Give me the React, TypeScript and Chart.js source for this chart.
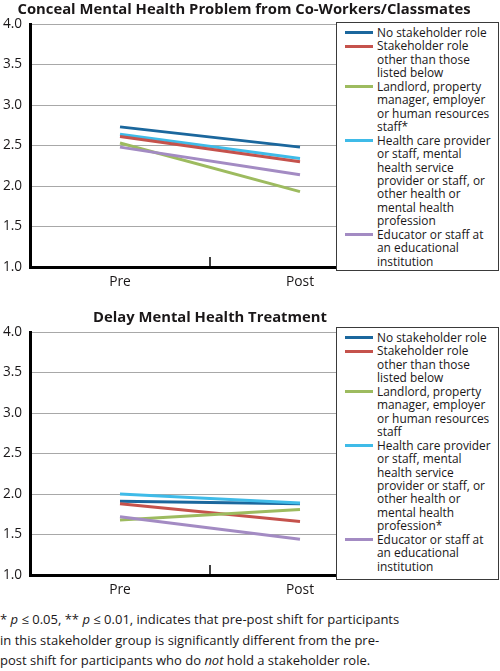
import React, { useEffect, useRef } from "react";
import { Chart, registerables } from "chart.js";

Chart.register(...registerables);

// ---------- data ----------
const categories = ["Pre", "Post"];
const yTicks = [1.0, 1.5, 2.0, 2.5, 3.0, 3.5, 4.0];

const seriesColors = ["#1b679d", "#c5524c", "#9dbb5f", "#3fbbe8", "#a38bc3"];

const concealLegend = [
  ["No stakeholder role"],
  ["Stakeholder role", "other than those", "listed below"],
  ["Landlord, property", "manager, employer", "or human resources", "staff*"],
  ["Health care provider", "or staff, mental", "health service", "provider or staff, or", "other health or", "mental health", "profession"],
  ["Educator or staff at", "an educational", "institution"],
];
const delayLegend = [
  ["No stakeholder role"],
  ["Stakeholder role", "other than those", "listed below"],
  ["Landlord, property", "manager, employer", "or human resources", "staff"],
  ["Health care provider", "or staff, mental", "health service", "provider or staff, or", "other health or", "mental health", "profession*"],
  ["Educator or staff at", "an educational", "institution"],
];

// Conceal Mental Health Problem from Co-Workers/Classmates (Pre, Post)
const concealNone = [2.73, 2.48];
const concealOther = [2.61, 2.30];
const concealLandlord = [2.53, 1.93];
const concealHealth = [2.64, 2.34];
const concealEducator = [2.48, 2.14];

// Delay Mental Health Treatment (Pre, Post)
const delayNone = [1.91, 1.88];
const delayOther = [1.88, 1.66];
const delayLandlord = [1.68, 1.81];
const delayHealth = [2.0, 1.89];
const delayEducator = [1.72, 1.44];

const concealTitle = "Conceal Mental Health Problem from Co-Workers/Classmates";
const delayTitle = "Delay Mental Health Treatment";

const FONT = "'Open Sans', sans-serif";
const TEXT = "#1a1718";

const midTickPlugin = {
  id: "midTick",
  afterDatasetsDraw(chart: any) {
    const x = chart.scales.x;
    const px = (x.getPixelForValue(0) + x.getPixelForValue(1)) / 2;
    const b = chart.chartArea.bottom;
    const ctx = chart.ctx;
    ctx.save();
    ctx.strokeStyle = "#000";
    ctx.lineWidth = 1.5;
    ctx.beginPath();
    ctx.moveTo(px, b - 10);
    ctx.lineTo(px, b);
    ctx.stroke();
    ctx.restore();
  },
};

function LineChart({ series, legend }: { series: number[][]; legend: string[][] }) {
  const ref = useRef<HTMLCanvasElement>(null);
  useEffect(() => {
    if (!ref.current) return;
    const order = [4, 2, 1, 3, 0];
    const chart = new Chart(ref.current, {
      type: "line",
      data: {
        labels: categories,
        datasets: order.map((i) => ({
          label: legend[i].join(" "),
          data: series[i],
          borderColor: seriesColors[i],
          backgroundColor: seriesColors[i],
          borderWidth: 3,
          pointRadius: 0,
          tension: 0,
        })),
      },
      options: {
        animation: false,
        responsive: false,
        events: [],
        layout: { padding: { top: 24, right: 110, left: 0, bottom: 0 } },
        plugins: { legend: { display: false }, title: { display: false }, tooltip: { enabled: false } },
        scales: {
          x: {
            type: "category",
            offset: true,
            grid: { display: false, drawTicks: false },
            border: { display: true, color: "#000", width: 3 },
            ticks: { color: TEXT, padding: 7, font: { family: FONT, size: 13.8 } },
            afterFit: (s: any) => {
              s.height = 33;
            },
          },
          y: {
            min: 1,
            max: 4,
            afterBuildTicks: (s: any) => {
              s.ticks = yTicks.map((v) => ({ value: v }));
            },
            grid: { color: "#a8a8a8", lineWidth: 1, drawTicks: false },
            border: { display: true, color: "#000", width: 3 },
            ticks: {
              color: TEXT,
              padding: 8,
              font: { family: FONT, size: 13.6 },
              callback: (v: any) => Number(v).toFixed(1),
            },
            afterFit: (s: any) => {
              s.width = 30;
            },
          },
        },
      },
      plugins: [midTickPlugin],
    });
    return () => chart.destroy();
  }, []);
  return <canvas ref={ref} width={500} height={300} style={{ display: "block" }} />;
}

function Legend({ items, top, height }: { items: string[][]; top: number; height: number }) {
  const lh = 13.45;
  return (
    <div
      style={{
        position: "absolute",
        left: 336,
        top,
        width: 163,
        height,
        boxSizing: "border-box",
        border: "1px solid #3a3a3a",
        background: "#fff",
        paddingTop: 3,
      }}
    >
      {items.map((lines, i) => (
        <div key={i} style={{ position: "relative", paddingLeft: 40 }}>
          <div
            style={{
              position: "absolute",
              left: 8,
              top: lh / 2 - 1.5,
              width: 28,
              height: 3,
              background: seriesColors[i],
            }}
          />
          {lines.map((l, j) => (
            <div
              key={j}
              style={{
                fontFamily: FONT,
                fontSize: 11.9,
                lineHeight: lh + "px",
                color: TEXT,
                whiteSpace: "nowrap",
              }}
            >
              {l}
            </div>
          ))}
        </div>
      ))}
    </div>
  );
}

export default function App() {
  const titleStyle: React.CSSProperties = {
    position: "absolute",
    fontFamily: FONT,
    fontWeight: 700,
    fontSize: 14.8,
    lineHeight: "16px",
    color: TEXT,
    textAlign: "center",
    whiteSpace: "nowrap",
  };
  const footStyle: React.CSSProperties = {
    fontFamily: FONT,
    fontSize: 13,
    lineHeight: "20.5px",
    color: TEXT,
    whiteSpace: "nowrap",
  };
  return (
    <div style={{ position: "absolute", left: 0, top: 0, width: 500, height: 671, background: "#fff", overflow: "hidden" }}>
      <div style={{ position: "absolute", left: 0, top: 0 }}>
        <LineChart
          series={[concealNone, concealOther, concealLandlord, concealHealth, concealEducator]}
          legend={concealLegend}
        />
      </div>
      <div style={{ ...titleStyle, left: 0, width: 488, top: 0 }}>{concealTitle}</div>
      <Legend items={concealLegend} top={22} height={249} />

      <div style={{ position: "absolute", left: 0, top: 308 }}>
        <LineChart
          series={[delayNone, delayOther, delayLandlord, delayHealth, delayEducator]}
          legend={delayLegend}
        />
      </div>
      <div style={{ ...titleStyle, left: 0, width: 420, top: 308 }}>{delayTitle}</div>
      <Legend items={delayLegend} top={327} height={253} />

      <div style={{ position: "absolute", left: 0, top: 609 }}>
        <div style={footStyle}>
          * <i>p</i> ≤ 0.05, ** <i>p</i> ≤ 0.01, indicates that pre-post shift for participants
        </div>
        <div style={footStyle}>in this stakeholder group is significantly different from the pre-</div>
        <div style={footStyle}>
          post shift for participants who do <i>not</i> hold a stakeholder role.
        </div>
      </div>
    </div>
  );
}
